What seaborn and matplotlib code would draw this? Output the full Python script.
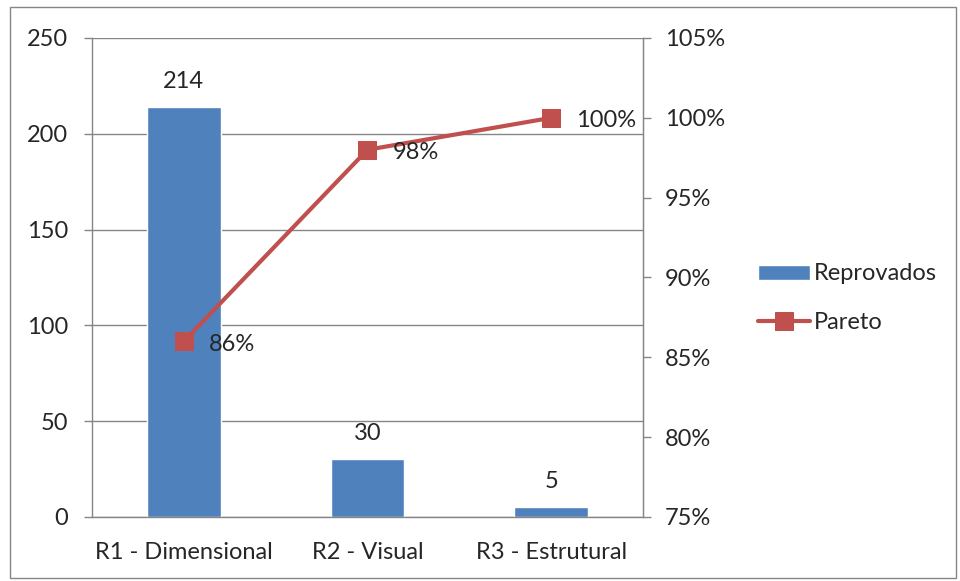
import numpy as np
import pandas as pd
import matplotlib
matplotlib.use("Agg")
import matplotlib.pyplot as plt
from matplotlib.patches import Rectangle
from matplotlib.ticker import FuncFormatter, FixedLocator
import seaborn as sns

# data
categories = ["R1 - Dimensional", "R2 - Visual", "R3 - Estrutural"]
reprovados = [214, 30, 5]
pareto = [86, 98, 100]

df = pd.DataFrame({"categoria": categories, "reprovados": reprovados, "pareto": pareto})

sns.set_style("white")
plt.rcParams["font.family"] = ["Lato", "DejaVu Sans"]
plt.rcParams["font.size"] = 17

blue = "#4F81BD"
red = "#C0504D"
gray = "#868686"

fig = plt.figure(figsize=(9.6, 5.81), dpi=100)
ax1 = fig.add_axes([0.0958, 0.1102, 0.5740, 0.8244])

sns.barplot(data=df, x="categoria", y="reprovados", color=blue, width=0.4,
            saturation=1, ax=ax1, legend=False, label="Reprovados")
ax1.set_ylim(0, 250)
ax1.set_xlim(-0.5, 2.5)
ax1.set_yticks(range(0, 251, 50))
ax1.grid(axis="y", color=gray, linewidth=1)
ax1.set_axisbelow(True)
ax1.set_xlabel("")
ax1.set_ylabel("")

# bar value labels
for i, v in enumerate(reprovados):
    ax1.annotate(str(v), (i, v), xytext=(0, 11), textcoords="offset points",
                 ha="center", va="bottom")

# x ticks at category boundaries
ax1.xaxis.set_major_locator(FixedLocator([-0.5, 0.5, 1.5, 2.5]))
ax1.set_xticklabels([])
ax1.xaxis.set_minor_locator(FixedLocator([0, 1, 2]))
ax1.set_xticklabels(categories, minor=True)
ax1.tick_params(axis="x", which="major", length=6, color=gray, width=1, direction="out")
ax1.tick_params(axis="x", which="minor", length=0, pad=18)
ax1.tick_params(axis="y", length=6, color=gray, width=1, direction="out", pad=11)

ax1.spines["top"].set_visible(False)
for s in ["left", "bottom", "right"]:
    ax1.spines[s].set_color(gray)
    ax1.spines[s].set_linewidth(1)

# pareto line
ax2 = ax1.twinx()
sns.lineplot(x=[0, 1, 2], y=pareto, color=red, linewidth=3, marker="s",
             markersize=13, markeredgecolor=red, ax=ax2, label="Pareto", legend=False)
ax2.set_ylim(75, 105)
ax2.set_yticks(range(75, 106, 5))
ax2.yaxis.set_major_formatter(FuncFormatter(lambda v, p: f"{int(v)}%"))
ax2.tick_params(axis="y", length=6, color=gray, width=1, direction="out", pad=10)
ax2.set_ylabel("")
for s in ["top", "left", "bottom"]:
    ax2.spines[s].set_visible(False)
ax2.spines["right"].set_color(gray)

for i, v in enumerate(pareto):
    ax2.annotate(f"{v}%", (i, v), xytext=(18, -2), textcoords="offset points",
                 ha="left", va="center")

# legend
handles1, labels1 = ax1.get_legend_handles_labels()
handles2, labels2 = ax2.get_legend_handles_labels()
fig.legend(handles1 + handles2, ["Reprovados", "Pareto"], loc="center left",
           bbox_to_anchor=(0.767, 0.487), frameon=False, handlelength=2.2,
           handleheight=0.6, labelspacing=1.15, handletextpad=0.2)

# outer border
fig.patches.append(Rectangle((0.01, 0.006), 0.986, 0.982, transform=fig.transFigure,
                             fill=False, edgecolor=gray, linewidth=1))

plt.savefig("out.png", dpi=100)
